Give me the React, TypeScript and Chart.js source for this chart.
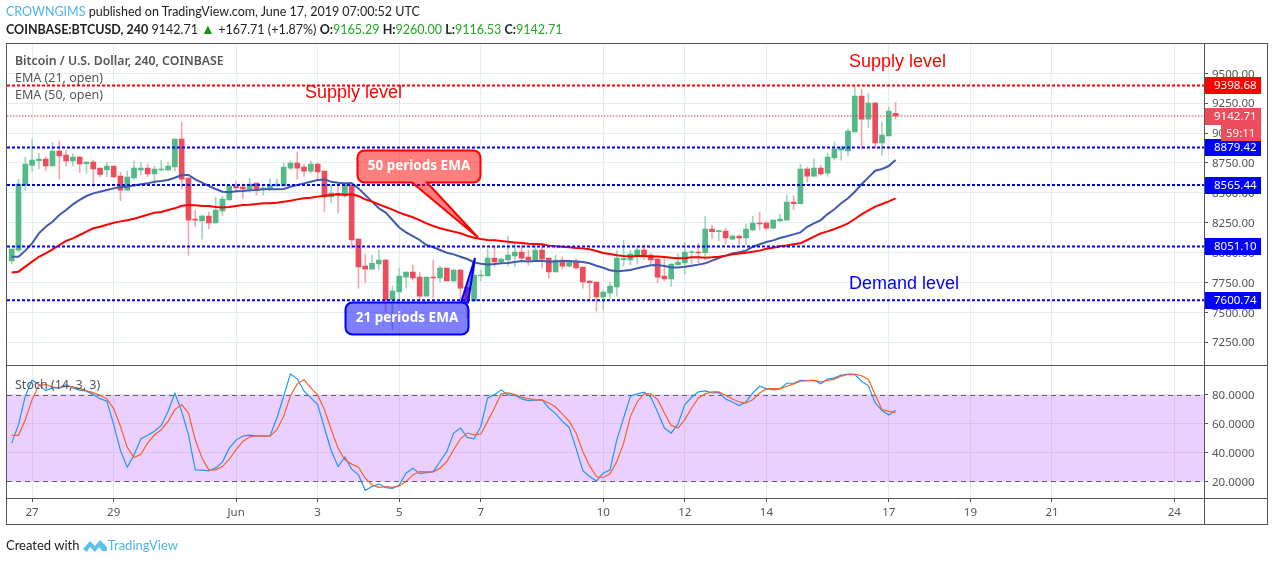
import React, { useEffect, useRef } from "react";
import { Chart, registerables } from "chart.js";

Chart.register(...registerables);

const opens = [7929,8021,8565,8730,8769,8783,8724,8850,8816,8766,8799,8744,8758,8707,8691,8724,8640,8523,8624,8691,8707,8657,8691,8691,8716,8950,8624,8281,8264,8306,8247,8348,8440,8557,8548,8532,8582,8532,8532,8557,8557,8707,8749,8716,8682,8741,8682,8465,8495,8473,8565,8113,7887,7862,7904,7938,7603,7670,7795,7837,7795,7636,7795,7787,7871,7762,7854,7712,7595,7804,7804,7954,7921,7938,7971,8004,7963,7938,8021,7954,7837,7938,7887,7929,7879,7762,7754,7628,7661,7712,7940,7938,7979,8021,7979,7946,7804,7779,7896,7913,8002,8004,7999,8197,8175,8180,8113,8138,8122,8189,8247,8247,8205,8264,8272,8423,8409,8699,8640,8707,8665,8791,8858,8850,9009,9310,9117,9251,8917,8975,9165];
const highs = [8030,8612,8797,8950,8830,8802,8922,8933,8858,8827,8808,8758,8774,8707,8758,8724,8674,8682,8766,8758,8741,8724,8774,8758,8950,9092,8624,8356,8314,8336,8465,8473,8557,8593,8573,8624,8582,8565,8615,8615,8749,8766,8841,8741,8766,8749,8682,8565,8565,8573,8573,8113,7988,7979,8021,7946,7720,7871,7837,7896,7837,7795,7938,7887,7871,7862,7862,7712,7938,7854,8030,8055,7954,8138,8088,8063,8021,8063,8063,7954,7979,7965,7938,7946,7879,7770,7754,7687,7754,8016,8105,8021,8049,8063,7993,7954,7954,7904,7988,8088,8021,8077,8300,8230,8183,8203,8147,8147,8239,8306,8339,8264,8272,8322,8481,8473,8741,8716,8783,8732,8833,8925,8891,9034,9393,9368,9335,9260,9092,9218,9260];
const lows = [7904,8007,8518,8682,8699,8685,8724,8615,8724,8724,8668,8663,8551,8635,8635,8626,8434,8515,8615,8649,8635,8573,8682,8682,8682,8532,7979,8216,8113,8197,8247,8306,8440,8507,8456,8507,8481,8481,8523,8551,8557,8691,8615,8640,8665,8615,8339,8415,8331,8462,8035,7703,7745,7862,7854,7503,7352,7603,7703,7770,7586,7636,7620,7754,7762,7754,7603,7449,7595,7762,7804,7882,7913,7887,7879,7938,7896,7938,7871,7787,7837,7862,7876,7862,7703,7603,7511,7519,7620,7636,7887,7896,7904,7938,7904,7745,7762,7714,7896,7820,7910,7910,7938,8119,8099,8071,8105,8071,8066,8180,8189,8189,8197,8261,8272,8356,8409,8590,8640,8649,8640,8774,8774,8808,9009,8866,9042,8875,8816,8975,9117];
const closes = [8030,8573,8741,8774,8783,8724,8850,8808,8766,8799,8741,8758,8699,8654,8724,8632,8523,8632,8707,8707,8657,8699,8699,8724,8950,8615,8272,8272,8306,8247,8356,8448,8557,8540,8532,8573,8532,8540,8565,8573,8716,8749,8707,8682,8741,8674,8465,8498,8481,8565,8105,7879,7862,7910,7938,7603,7678,7804,7837,7787,7636,7795,7787,7871,7762,7854,7703,7595,7812,7812,7954,7921,7946,7979,8004,7954,7938,8021,7946,7837,7938,7887,7929,7871,7754,7748,7628,7670,7720,7954,7949,7988,8021,7971,7938,7795,7779,7904,7921,8004,8007,7996,8197,8175,8183,8122,8138,8122,8197,8247,8239,8205,8272,8281,8423,8409,8699,8640,8707,8657,8799,8866,8872,9017,9310,9117,9251,8917,8983,9184,9143];
const ema21 = [7965,7965,8016,8077,8161,8216,8258,8314,8356,8403,8440,8473,8495,8509,8523,8537,8548,8551,8562,8571,8579,8593,8599,8607,8626,8649,8649,8612,8585,8557,8532,8509,8504,8512,8515,8521,8523,8529,8529,8529,8532,8551,8565,8579,8593,8607,8612,8593,8585,8579,8582,8537,8481,8426,8370,8334,8272,8210,8169,8138,8105,8063,8044,8021,7999,7985,7965,7946,7918,7907,7901,7904,7910,7913,7921,7929,7926,7929,7932,7924,7926,7929,7929,7926,7921,7910,7890,7873,7851,7843,7848,7854,7868,7882,7893,7896,7887,7876,7876,7882,7890,7899,7910,7932,7954,7974,7993,8002,8016,8049,8069,8088,8102,8122,8136,8152,8169,8216,8244,8272,8322,8362,8412,8454,8509,8571,8629,8685,8699,8724,8774];
const ema50 = [7834,7840,7882,7924,7965,7993,8027,8063,8097,8119,8147,8175,8203,8216,8233,8250,8261,8270,8283,8300,8317,8334,8339,8356,8370,8392,8398,8395,8389,8389,8381,8378,8381,8389,8398,8401,8406,8412,8412,8417,8426,8434,8445,8454,8459,8468,8476,8481,8487,8484,8487,8473,8445,8426,8403,8381,8359,8334,8314,8295,8272,8244,8222,8203,8189,8175,8161,8141,8124,8113,8105,8102,8097,8091,8085,8080,8074,8071,8069,8058,8052,8049,8044,8038,8035,8027,8013,7996,7988,7977,7971,7968,7971,7971,7968,7968,7963,7957,7952,7952,7960,7960,7957,7960,7965,7974,7985,7993,7999,8007,8016,8032,8041,8052,8060,8069,8077,8105,8133,8161,8177,8197,8219,8244,8281,8320,8353,8384,8406,8428,8454];
const stochK = [46.5,59.3,79.1,90.2,87.2,83,84.9,84.9,87.2,84.9,83.3,82.6,80.2,77.4,75.6,59.3,41.2,29.8,38.4,49.5,51.9,54.7,58.8,68.6,81.2,68.6,52.3,27.9,27.7,27.2,29.1,33.3,43,48.6,51.4,52.1,51.6,51.4,51.6,64,79.1,94.6,91.2,82.6,77.9,73.3,57,41.2,30.2,36.7,28.4,24.4,13.7,16.3,18.2,15.6,15.1,17.4,25.6,29.1,25.3,26,26.7,33.7,40.7,53.5,57,50.5,49.5,58.1,77.9,80.2,83.5,79.8,79.8,77.2,76,76.3,76.5,70.9,67,61.6,57.4,43,27.4,23.3,20.2,25.6,27.9,48.8,64,79.1,80.7,81.9,78.4,68.1,57,53.5,59.8,73.3,78.4,82.1,82.8,81.4,81.6,77.2,75.1,72.6,75.1,81.4,86,84.2,83.5,84.2,88.1,88.1,90.2,90,90.2,87.7,91,91.9,93.7,94.4,94.2,89.5,86.3,74.4,69.1,66,69.3];
const stochD = [51.9,51.9,62.8,76.7,86.7,87.2,85.4,84.9,86,85.6,84.4,83,81.4,79.8,77.2,70.5,58.1,43.5,36.5,38.8,46.5,52.3,55.8,61.6,69.8,73.3,67.4,48.8,36,27.7,27.9,30.2,35.3,41.9,47.7,50.9,51.6,51.4,51.4,55.8,65.1,79.5,87.7,90.5,84.9,79.8,69.8,55.8,43,34.9,31.9,29.8,22.1,17.4,15.8,16.3,15.8,16.7,19.8,24.4,26.7,26.5,26.5,29.1,33.7,41.9,49.5,53.5,52.3,52.8,61.6,70.9,80.7,81.4,80.2,78.4,77.4,76.5,76.5,74.4,71.6,66.7,61.6,53.5,40.7,30.7,23.3,22.6,25.1,33.7,46.5,65.1,75.1,80.7,80.7,76.7,67.4,58.8,57,62.8,70.9,77.9,80.7,82.1,82.1,79.8,77.2,75.1,74.4,76.7,81.4,84.2,84.4,84.4,86,87.7,89.5,90,90.2,89.1,90,91,93,94.2,94.4,93.3,90.7,80.2,69.8,68.6,67.9];

const dateTickBars = [3,15,33,45,57,69,87,99,111,129,141,153,171];
const dateTickLabels = ["27","29","Jun","3","5","7","10","12","14","17","19","21","24"];
const priceTicks = [7250,7500,7750,8000,8250,8500,8750,9000,9250,9500];
const stochTicks = [20,40,60,80];
const supplyLevels = [9398.68];
const demandLevels = [8879.42,8565.44,8051.10,7600.74];
const lastPrice = 9142.71;

const GREEN = "#53b987";
const RED = "#eb4d5c";
const GRID = "#e4edf2";
const TEXT = "#555555";
const FONT = "'Noto Sans', sans-serif";
const barIndex = opens.map((_, i) => i);
const isUp = barIndex.map((i) => closes[i] >= opens[i]);

const X_MIN = -0.69, X_MAX = 175.36;

function xScale(showLabels: boolean) {
  return {
    type: "linear", min: X_MIN, max: X_MAX, offset: false,
    afterBuildTicks: (s: any) => { s.ticks = dateTickBars.map((v) => ({ value: v })); },
    afterFit: (s: any) => { s.height = showLabels ? 27 : 0; },
    grid: { color: GRID, lineWidth: 1, drawTicks: showLabels, tickColor: "#555555", tickLength: 4, offset: false },
    border: { display: false },
    ticks: {
      display: showLabels, autoSkip: false, maxRotation: 0, color: TEXT, padding: 4, font: { family: FONT, size: 11.5 },
      callback: (v: number) => dateTickLabels[dateTickBars.indexOf(v)] ?? "",
    },
  };
}

function levelLine(value: number, color: string, width: number, dash: number[]) {
  return {
    type: "line", data: [{ x: X_MIN, y: value }, { x: X_MAX, y: value }], borderColor: color, borderWidth: width,
    borderDash: dash, pointRadius: 0, order: -1, clip: true,
  };
}

function callout(ctx: CanvasRenderingContext2D, box: number[], base: number[], tip: number[], fill: string, stroke: string, label: string) {
  const [x, y, w, h] = box;
  const r = 7;
  const top = tip[1] < y;
  ctx.beginPath();
  ctx.moveTo(x + r, y);
  if (top) { ctx.lineTo(base[0], y); ctx.lineTo(tip[0], tip[1]); ctx.lineTo(base[1], y); }
  ctx.lineTo(x + w - r, y);
  ctx.arcTo(x + w, y, x + w, y + r, r);
  ctx.lineTo(x + w, y + h - r);
  ctx.arcTo(x + w, y + h, x + w - r, y + h, r);
  if (!top) { ctx.lineTo(base[1], y + h); ctx.lineTo(tip[0], tip[1]); ctx.lineTo(base[0], y + h); }
  ctx.lineTo(x + r, y + h);
  ctx.arcTo(x, y + h, x, y + h - r, r);
  ctx.lineTo(x, y + r);
  ctx.arcTo(x, y, x + r, y, r);
  ctx.closePath();
  ctx.fillStyle = fill;
  ctx.fill();
  ctx.lineWidth = 2;
  ctx.strokeStyle = stroke;
  ctx.stroke();
  ctx.fillStyle = "#ffffff";
  ctx.font = `bold 13.5px ${FONT}`;
  ctx.textAlign = "center";
  ctx.textBaseline = "middle";
  ctx.fillText(label, x + w / 2, y + h / 2);
}

const mainOverlay = {
  id: "mainOverlay",
  afterDraw(chart: any) {
    const { ctx, scales } = chart;
    const y = scales.y;
    const tag = (value: number, fill: string, label: string) => {
      const py = Math.round(y.getPixelForValue(value));
      ctx.fillStyle = fill;
      ctx.fillRect(1205, py - 8, 56, 17);
      ctx.fillStyle = "#ffffff";
      ctx.font = `11.5px ${FONT}`;
      ctx.textAlign = "left";
      ctx.textBaseline = "middle";
      ctx.fillText(label, 1214, py + 0.5);
    };
    ctx.save();
    demandLevels.forEach((v) => tag(v, "#0000ff", v.toFixed(2)));
    supplyLevels.forEach((v) => tag(v, "#ff0000", v.toFixed(2)));
    tag(lastPrice, RED, lastPrice.toFixed(2));
    ctx.fillStyle = RED;
    ctx.fillRect(1221, 125, 40, 16);
    ctx.fillStyle = "#ffffff";
    ctx.fillText("59:11", 1226, 133.5);

    ctx.textAlign = "left";
    ctx.textBaseline = "alphabetic";
    ctx.fillStyle = TEXT;
    ctx.font = `600 12.3px ${FONT}`;
    ctx.fillText("Bitcoin / U.S. Dollar, 240, COINBASE", 15, 65);
    ctx.font = `12.5px ${FONT}`;
    ctx.fillText("EMA (21, open)", 15, 82);
    ctx.fillText("EMA (50, open)", 15, 99);

    ctx.font = "18px 'Liberation Sans', sans-serif";
    ctx.fillStyle = "#ff0000";
    ctx.fillText("Supply level", 305, 98);
    ctx.fillText("Supply level", 849, 67);
    ctx.fillStyle = "#0000ff";
    ctx.fillText("Demand level", 849, 289);

    callout(ctx, [357.5, 150.5, 123, 32], [412, 427], [478, 237.5], "rgba(255,0,0,0.5)", "#ff0000", "50 periods EMA");
    callout(ctx, [345.5, 302.5, 123, 32], [461, 468], [475, 258], "rgba(0,0,255,0.5)", "#0000ff", "21 periods EMA");

    ctx.strokeStyle = "#555555";
    ctx.lineWidth = 1;
    ctx.strokeRect(6.5, 43.5, 1261, 322);
    ctx.beginPath();
    ctx.moveTo(1204.5, 43.5);
    ctx.lineTo(1204.5, 365.5);
    ctx.stroke();
    ctx.restore();
  },
};

const stochOverlay = {
  id: "stochOverlay",
  beforeDatasetsDraw(chart: any) {
    const { ctx, scales, chartArea } = chart;
    const y80 = scales.y.getPixelForValue(80);
    const y20 = scales.y.getPixelForValue(20);
    ctx.save();
    ctx.fillStyle = "rgba(153,21,255,0.2)";
    ctx.fillRect(chartArea.left, y80, chartArea.right - chartArea.left, y20 - y80);
    ctx.strokeStyle = "#6b5b75";
    ctx.lineWidth = 1;
    ctx.setLineDash([5, 4]);
    [y80, y20].forEach((py) => {
      ctx.beginPath();
      ctx.moveTo(chartArea.left, Math.round(py) + 0.5);
      ctx.lineTo(chartArea.right, Math.round(py) + 0.5);
      ctx.stroke();
    });
    ctx.restore();
  },
  afterDraw(chart: any) {
    const { ctx } = chart;
    ctx.save();
    ctx.fillStyle = TEXT;
    ctx.font = `12.5px ${FONT}`;
    ctx.textAlign = "left";
    ctx.fillText("Stoch (14, 3, 3)", 15, 389);
    ctx.strokeStyle = "#555555";
    ctx.lineWidth = 1;
    ctx.strokeRect(6.5, 365.5, 1261, 159);
    ctx.beginPath();
    ctx.moveTo(6.5, 498.5);
    ctx.lineTo(1267.5, 498.5);
    ctx.moveTo(1204.5, 365.5);
    ctx.lineTo(1204.5, 524.5);
    ctx.stroke();
    ctx.restore();
  },
};

export default function App() {
  const mainRef = useRef<HTMLCanvasElement>(null);
  const stochRef = useRef<HTMLCanvasElement>(null);

  useEffect(() => {
    document.body.style.margin = "0";
    const common = { responsive: false, animation: false, plugins: { legend: { display: false }, tooltip: { enabled: false } } };
    const main = new Chart(mainRef.current!, {
      type: "bar",
      data: {
        datasets: [
          {
            type: "bar",
            data: barIndex.map((i) => ({ x: i, y: [lows[i], highs[i]] })),
            backgroundColor: isUp.map((u) => (u ? "#a3d4bc" : "#f5a6ae")),
            barThickness: 1, grouped: false, order: 5,
          },
          {
            type: "bar",
            data: barIndex.map((i) => ({ x: i, y: [Math.min(opens[i], closes[i]), Math.max(opens[i], closes[i])] })),
            backgroundColor: isUp.map((u) => (u ? GREEN : RED)),
            barThickness: 5, grouped: false, order: 4,
          },
          { type: "line", data: barIndex.map((i) => ({ x: i, y: ema21[i] })), borderColor: "#3f5ba9", borderWidth: 2, pointRadius: 0, order: 3 },
          { type: "line", data: barIndex.map((i) => ({ x: i, y: ema50[i] })), borderColor: "#ff0000", borderWidth: 2, pointRadius: 0, order: 2 },
          levelLine(lastPrice, "#e23a4a", 1.2, [1.5, 1.5]),
          ...supplyLevels.map((v) => levelLine(v, "#ff0000", 2, [3, 2])),
          ...demandLevels.map((v) => levelLine(v, "#0000ff", 2, [3, 2])),
        ],
      } as any,
      options: {
        ...common,
        layout: { padding: { left: 7, right: 0, top: 44, bottom: 196.5 } },
        scales: {
          x: xScale(false),
          y: {
            position: "right", min: 7055, max: 9745,
            afterBuildTicks: (s: any) => { s.ticks = priceTicks.map((v) => ({ value: v })); },
            afterFit: (s: any) => { s.width = 70; },
            grid: { color: GRID, tickColor: "#555555", tickLength: 4 },
            border: { display: false },
            ticks: { color: TEXT, padding: 4, labelOffset: 1, font: { family: FONT, size: 11.5 }, callback: (v: number) => v.toFixed(2) },
          },
        },
      } as any,
      plugins: [mainOverlay],
    });
    const stoch = new Chart(stochRef.current!, {
      type: "line",
      data: {
        datasets: [
          { data: barIndex.map((i) => ({ x: i, y: stochK[i] })), borderColor: "#2196f3", borderWidth: 1.2, pointRadius: 0, order: 2 },
          { data: barIndex.map((i) => ({ x: i, y: stochD[i] })), borderColor: "#f4622a", borderWidth: 1.2, pointRadius: 0, order: 1 },
        ],
      } as any,
      options: {
        ...common,
        layout: { padding: { left: 7, right: 0, top: 366, bottom: 37 } },
        scales: {
          x: xScale(true),
          y: {
            position: "right", min: 8.35, max: 100.1,
            afterBuildTicks: (s: any) => { s.ticks = stochTicks.map((v) => ({ value: v })); },
            afterFit: (s: any) => { s.width = 70; },
            grid: { color: GRID, tickColor: "#555555", tickLength: 4 },
            border: { display: false },
            ticks: { color: TEXT, padding: 4, labelOffset: 1, font: { family: FONT, size: 11.5 }, callback: (v: number) => v.toFixed(4) },
          },
        },
      } as any,
      plugins: [stochOverlay],
    });
    return () => { main.destroy(); stoch.destroy(); };
  }, []);

  const textStyle: React.CSSProperties = { position: "absolute", left: 6, whiteSpace: "nowrap", fontFamily: "Lato, sans-serif", fontSize: 12.5, lineHeight: "16px", color: "#222" };
  const num: React.CSSProperties = { color: "#22a722" };
  const canvasStyle: React.CSSProperties = { position: "absolute", left: 0, top: 0 };
  return (
    <div style={{ position: "fixed", left: 0, top: 0, width: 1274, height: 562, background: "#fff", overflow: "hidden" }}>
      <canvas ref={mainRef} width={1274} height={562} style={canvasStyle} />
      <canvas ref={stochRef} width={1274} height={562} style={canvasStyle} />
      <div style={{ ...textStyle, top: 4 }}>
        <span style={{ color: "#4db6e6" }}>CROWNGIMS</span> published on TradingView.com, June 17, 2019 07:00:52 UTC
      </div>
      <div style={{ ...textStyle, top: 21 }}>
        <b>COINBASE:BTCUSD, 240</b>&nbsp;9142.71 <span style={{ color: "#0a9a0a", fontSize: 14 }}>▲</span> +167.71 (+1.87%) <b>O:</b><span style={num}>9165.29</span> <b>H:</b><span style={num}>9260.00</span> <b>L:</b><span style={num}>9116.53</span> <b>C:</b><span style={num}>9142.71</span>
      </div>
      <div style={{ ...textStyle, top: 537, display: "flex", alignItems: "center", fontSize: 13 }}>
        Created with&nbsp;
        <svg width="24" height="15" viewBox="0 0 24 15" style={{ marginRight: 1 }}>
          <path d="M0 11 L7 3 L12 8 L17 2 L24 9 L24 13 L19 13 L16 9 L12 14 L7 9 L4 14 Z" fill="#5cc3ea" />
        </svg>
        <span style={{ color: "#4db6e6" }}>TradingView</span>
      </div>
    </div>
  );
}
